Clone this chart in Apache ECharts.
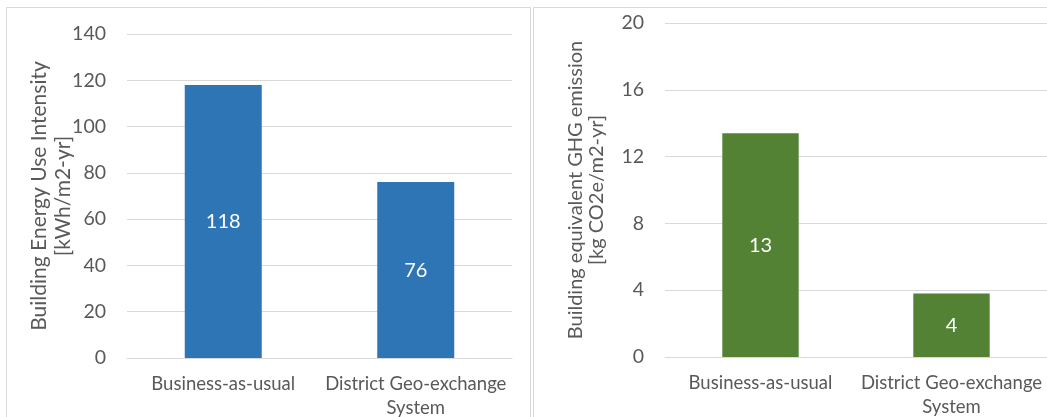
<!DOCTYPE html>
<html>
<head>
<meta charset="utf-8">
<script src="https://cdn.jsdelivr.net/npm/echarts@6/dist/echarts.min.js"></script>
<style>
  html, body { margin: 0; padding: 0; background: #ffffff; }
  #chart { width: 1047px; height: 417px; }
</style>
</head>
<body>
<div id="chart"></div>
<script>
// ---- Data ----
const categories = ['Business-as-usual', 'District Geo-exchange\nSystem'];
const energyValues = [118, 76];          // kWh/m2-yr
const ghgValues = [13.4, 3.8];           // kg CO2e/m2-yr
const energyTicks = { min: 0, max: 140, interval: 20 };
const ghgTicks = { min: 0, max: 20, interval: 4 };
const energyAxisName = 'Building Energy Use Intensity\n[kWh/m2-yr]';
const ghgAxisName = 'Building equivalent GHG emission\n[kg CO2e/m2-yr]';

// ---- Styles ----
const FONT = 'Lato';
const TEXT = '#595959';
const GRID = '#D9D9D9';
const BLUE = '#2E75B6';
const GREEN = '#548235';

const chart = echarts.init(document.getElementById('chart'), null, { renderer: 'canvas' });

function xAxis(gridIndex) {
  return {
    type: 'category', gridIndex, data: categories,
    axisLine: { show: true, lineStyle: { color: GRID, width: 1 } },
    axisTick: { show: false },
    axisLabel: { color: TEXT, fontFamily: FONT, fontSize: 18.5, margin: 14, lineHeight: 24, interval: 0 }
  };
}
function yAxis(gridIndex, t, name, gap, fs, lh) {
  return {
    type: 'value', gridIndex, min: t.min, max: t.max, interval: t.interval,
    name, nameLocation: 'middle', nameRotate: 90, nameGap: gap, nameMoveOverlap: false,
    nameTextStyle: { color: TEXT, fontFamily: FONT, fontSize: fs, lineHeight: lh },
    axisLine: { show: false }, axisTick: { show: false },
    axisLabel: { color: TEXT, fontFamily: FONT, fontSize: 19.5, margin: 21 },
    splitLine: { lineStyle: { color: GRID, width: 1 } }
  };
}
function barSeries(idx, data, color) {
  return {
    type: 'bar', xAxisIndex: idx, yAxisIndex: idx, data, barWidth: '40%',
    itemStyle: { color },
    label: { show: true, position: 'inside', color: '#ffffff', fontFamily: FONT, fontSize: 20,
      formatter: p => String(Math.round(p.value)) }
  };
}

chart.setOption({
  animation: false,
  backgroundColor: '#ffffff',
  graphic: [
    { type: 'rect', shape: { x: 6.5, y: 7.5, width: 524, height: 420 }, style: { fill: 'none', stroke: GRID, lineWidth: 1 }, silent: true },
    { type: 'rect', shape: { x: 533.5, y: 7.5, width: 520, height: 420 }, style: { fill: 'none', stroke: GRID, lineWidth: 1 }, silent: true }
  ],
  grid: [
    { left: 127, top: 34, width: 385, height: 324, outerBoundsMode: 'none', containLabel: false },
    { left: 665, top: 23, width: 382, height: 334, outerBoundsMode: 'none', containLabel: false }
  ],
  xAxis: [xAxis(0), xAxis(1)],
  yAxis: [
    yAxis(0, energyTicks, energyAxisName, 52, 21, 24),
    yAxis(1, ghgTicks, ghgAxisName, 58, 20, 21)
  ],
  series: [barSeries(0, energyValues, BLUE), barSeries(1, ghgValues, GREEN)]
});
</script>
</body>
</html>
